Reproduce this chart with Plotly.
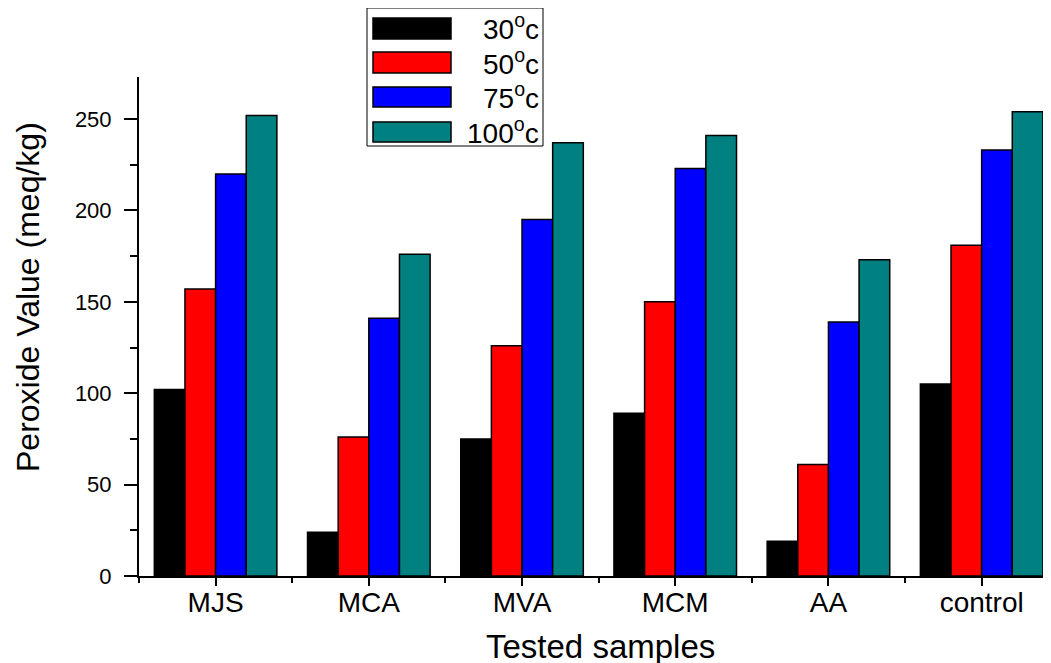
import plotly.graph_objects as go

categories = ["MJS", "MCA", "MVA", "MCM", "AA", "control"]
series_names = ["30<sup>o</sup>c", "50<sup>o</sup>c", "75<sup>o</sup>c", "100<sup>o</sup>c"]
v30 = [102, 24, 75, 89, 19, 105]
v50 = [157, 76, 126, 150, 61, 181]
v75 = [220, 141, 195, 223, 139, 233]
v100 = [252, 176, 237, 241, 173, 254]
colors = ["#000000", "#ff0000", "#0000ff", "#008080"]
y_ticks = [0, 50, 100, 150, 200, 250]

values = [v30, v50, v75, v100]
xpos = list(range(1, len(categories) + 1))
FONT = "Liberation Sans, Arial, sans-serif"

W, H = 1051, 663
OFF = 8  # page body margin offset
ML, MR, MT, MB = 131, 13, 69, 95
PW = W - ML - MR
PH = H - MT - MB
X0 = OFF + ML   # screen x of plot left
Y0 = OFF + MT   # screen y of plot top

def px(x): return (x - X0) / PW
def py(y): return 1 - (y - Y0) / PH

fig = go.Figure()
for name, vals, col in zip(series_names, values, colors):
    fig.add_trace(go.Bar(
        x=xpos, y=vals, name=name, showlegend=False,
        marker=dict(color=col, line=dict(color="#000000", width=1.5)),
    ))

# custom legend (box + swatches + labels)
L, R, T, B = 367, 543, 8, 146
shapes = [dict(type="rect", xref="paper", yref="paper",
               x0=px(L), x1=px(R), y0=py(B), y1=py(T),
               line=dict(color="#000000", width=1), fillcolor="white", layer="above")]
annotations = []
rows = [(18, 39), (52, 73), (87, 107), (122, 142)]
for (r0, r1), name, col in zip(rows, series_names, colors):
    shapes.append(dict(type="rect", xref="paper", yref="paper",
                       x0=px(373), x1=px(451), y0=py(r1), y1=py(r0),
                       line=dict(color="#000000", width=1.5), fillcolor=col, layer="above"))
    annotations.append(dict(xref="paper", yref="paper", x=px(541), y=py((r0 + r1) / 2 - 1),
                            text=name, showarrow=False, xanchor="right", yanchor="middle",
                            font=dict(family=FONT, size=28, color="#000000")))

# y-axis title
annotations.append(dict(xref="paper", yref="paper", x=px(28), y=py(297),
                        text="Peroxide Value (meq/kg)", textangle=-90, showarrow=False,
                        xanchor="center", yanchor="middle",
                        font=dict(family=FONT, size=32, color="#000000")))
# x-axis title
annotations.append(dict(xref="paper", yref="paper", x=px(600), y=py(646),
                        text="Tested samples", showarrow=False,
                        xanchor="center", yanchor="middle",
                        font=dict(family=FONT, size=33, color="#000000")))

fig.update_layout(
    width=W, height=H,
    margin=dict(l=ML, r=MR, t=MT, b=MB),
    plot_bgcolor="white", paper_bgcolor="white",
    barmode="group", bargap=0.2, bargroupgap=0,
    shapes=shapes, annotations=annotations,
    font=dict(family=FONT, color="#000000"),
    xaxis=dict(
        range=[0.5, 6.42], tickmode="array", tickvals=xpos, ticktext=categories,
        showline=True, linecolor="#000000", linewidth=2, showgrid=False, zeroline=False,
        ticks="outside", ticklen=8, tickwidth=2, tickcolor="#000000",
        tickfont=dict(family=FONT, size=28, color="#000000"),
        ticklabelstandoff=-8,
        minor=dict(tickmode="linear", tick0=0.5, dtick=1, ticks="outside", ticklen=5,
                   tickwidth=2, tickcolor="#000000", showgrid=False),
    ),
    yaxis=dict(
        range=[0, 273], tickmode="array", tickvals=y_ticks,
        showline=True, linecolor="#000000", linewidth=2, showgrid=False, zeroline=False,
        ticks="outside", ticklen=13, tickwidth=2, tickcolor="#000000",
        tickfont=dict(family=FONT, size=22, color="#000000"),
        ticklabelstandoff=8,
        minor=dict(tickmode="linear", tick0=0, dtick=25, ticks="outside", ticklen=7,
                   tickwidth=2, tickcolor="#000000", showgrid=False),
    ),
)

fig.write_html("out.html")
